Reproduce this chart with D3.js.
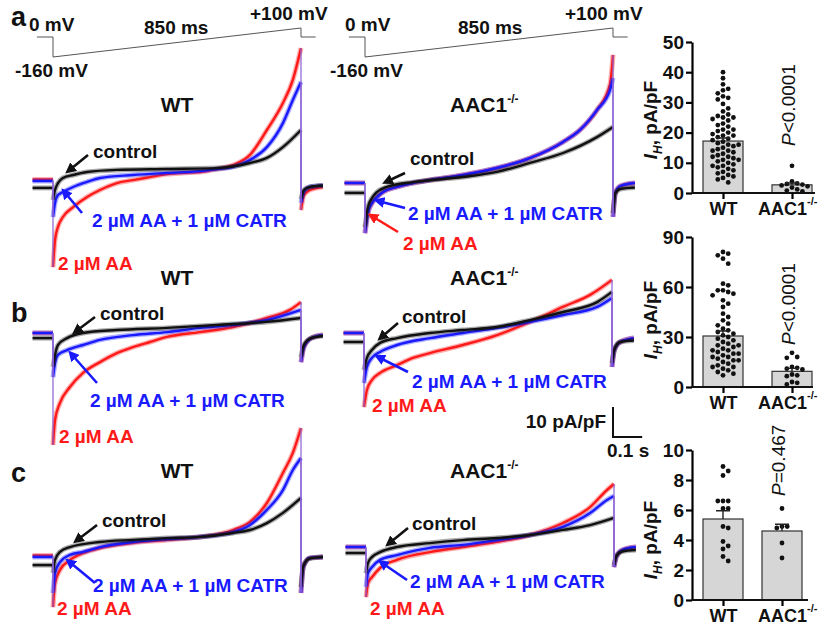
<!DOCTYPE html>
<html>
<head>
<meta charset="utf-8">
<script src="https://cdn.jsdelivr.net/npm/d3@7"></script>
<style>
  body { margin: 0; background: #fff; }
  svg { font-family: "Liberation Sans", Arial, sans-serif; }
</style>
</head>
<body>
<div id="chart"></div>
<script>
// ---- traces: [time ms, current pA/pF], ramp -160 -> +100 mV over 850 ms ----
// a step is written as two samples at the same time
const aWT_red = [[-70,0.5],[0,0.5],[0,-28.7],[7,-19.7],[17,-15.3],[34,-12],[69,-8.7],[117,-5.3],[161,-3],[219,-0.7],[274,0.3],[332,1.3],[391,2.3],[446,2.7],[504,3],[562,4],[617,5.3],[675,8.7],[733,17],[788,26],[822,33.7],[850,44.3],[850,-9.7],[860,-4.7],[880,-3],[925,-2]];
const aWT_blue = [[-70,0],[0,0],[0,-12],[7,-7.3],[17,-4.7],[34,-3.7],[69,-2],[117,-0.3],[161,1],[274,2],[391,2.7],[504,3.3],[562,4],[617,4.7],[675,7],[733,11.3],[788,19.3],[822,27],[850,33],[850,-7.3],[860,-3.5],[880,-2],[925,-1.5]];
const aWT_ctrl = [[-70,-2.3],[0,-2.3],[0,-6.3],[7,-3],[17,-0.7],[34,1],[69,2],[117,3],[219,3.7],[391,4],[562,4.3],[675,6],[733,7.7],[788,11.3],[850,17],[850,-6],[860,-3],[880,-2],[925,-1.5]];

const aKO_red = [[-70,0],[0,0],[0,-16.7],[10,-10],[24,-6.7],[41,-4.7],[62,-3],[110,-1.3],[165,0],[223,1],[336,2.7],[452,5],[565,8.3],[679,13.7],[737,17.7],[795,24.3],[840,33],[850,42.7],[850,-11.3],[858,-3.3],[875,-1],[925,0]];
const aKO_blue = [[-70,0],[0,0],[0,-16.7],[10,-10],[24,-6.7],[41,-4.7],[62,-3],[110,-1.3],[165,0],[223,1],[336,2.7],[452,5],[565,8.3],[679,13.7],[737,17.7],[795,24.3],[840,31],[850,35],[850,-11.3],[858,-3.3],[875,-1],[925,0]];
const aKO_ctrl = [[-70,-3.3],[0,-3.3],[0,-14.7],[10,-8],[24,-5],[41,-3],[75,-1.3],[165,0.3],[336,2],[452,3.7],[565,6.7],[679,10],[795,15.3],[850,18.7],[850,-10],[858,-3.5],[875,-2],[925,-1.5]];

const bWT_red = [[-70,0],[0,0],[0,-37.3],[7,-29],[24,-23.3],[58,-18],[103,-13.3],[161,-9.7],[219,-6.7],[274,-4.7],[332,-3],[391,-1.3],[504,0.3],[617,2],[733,5],[812,7.7],[850,10.3],[850,-9.7],[860,-4.7],[885,-1.7],[925,-0.7]];
const bWT_blue = [[-70,0],[0,0],[0,-14.7],[7,-10],[17,-7.3],[48,-5.7],[103,-4],[161,-2.3],[274,-0.7],[391,0.3],[504,1.7],[617,2.7],[733,4.3],[850,7.7],[850,-9.7],[860,-4.7],[885,-1.7],[925,-0.7]];
const bWT_ctrl = [[-70,-1.7],[0,-1.7],[0,-11.3],[7,-7.3],[17,-4],[48,-1.7],[103,0],[219,1],[391,1.7],[562,2.7],[733,3.7],[850,5],[850,-8],[860,-4],[885,-1.7],[925,-1]];

const bKO_red = [[-70,0],[0,0],[0,-24.7],[10,-19],[27,-15.7],[55,-13.3],[113,-10.7],[168,-8.3],[226,-6.7],[339,-4],[456,-0.7],[569,3.7],[682,8.7],[775,12.7],[850,17.7],[850,-11.3],[858,-5.7],[878,-3],[925,-1.7]];
const bKO_blue = [[-70,0],[0,0],[0,-16.7],[10,-11.3],[27,-8.3],[55,-6.3],[113,-4],[226,-1.7],[339,0],[456,1.7],[569,3.7],[682,6],[799,8.7],[850,11.7],[850,-11.3],[858,-5.7],[878,-3],[925,-1.7]];
const bKO_ctrl = [[-70,-3],[0,-3],[0,-12.3],[10,-8.3],[27,-5.7],[55,-3.3],[113,-1.7],[226,0],[339,1],[456,2],[569,4.3],[682,7],[799,10.3],[850,13.7],[850,-10],[858,-5.5],[878,-3],[925,-2.5]];

const cWT_red = [[-70,0.5],[0,0.5],[0,-16.7],[7,-8.7],[24,-4.3],[58,-1],[103,1.3],[161,3],[274,4.7],[391,5.7],[504,6.7],[617,9],[675,11.7],[733,18],[788,28],[822,34.7],[850,43],[850,-12],[858,-3.3],[880,-0.3],[925,0]];
const cWT_blue = [[-70,0],[0,0],[0,-12],[7,-5.3],[24,-1.7],[58,0.7],[103,1.7],[161,3.3],[274,5],[391,6],[504,6.7],[617,8.3],[675,10.7],[733,15.7],[788,22.3],[822,29],[850,33],[850,-12],[858,-3.3],[880,-0.3],[925,0]];
const cWT_ctrl = [[-70,-2.7],[0,-2.7],[0,-5.3],[7,-1],[24,1.7],[58,3.3],[161,5],[274,5.7],[391,6.3],[504,6.7],[617,8],[675,9],[733,11.3],[788,14.7],[850,19.7],[850,-10],[858,-3],[880,-0.5],[925,0]];

const cKO_red = [[-70,0],[0,0],[0,-16.7],[7,-12],[21,-10],[48,-7],[106,-4.3],[219,-1.7],[332,0],[449,1.7],[562,4],[675,8],[768,13.3],[826,19],[850,21],[850,-6.7],[858,-3.3],[878,-1],[925,0]];
const cKO_blue = [[-70,0],[0,0],[0,-13.3],[7,-8.7],[21,-6.7],[48,-4.3],[106,-2.7],[219,-0.3],[332,0.7],[449,2.3],[562,4],[675,6.7],[768,11.3],[826,15.7],[850,17],[850,-6.7],[858,-3.3],[878,-1],[925,0]];
const cKO_ctrl = [[-70,-2],[0,-2],[0,-8.7],[7,-5.3],[21,-3.3],[48,-1.7],[106,0],[219,1.3],[332,2.3],[449,3],[562,4],[675,5.7],[768,7.3],[850,9.7],[850,-6],[858,-3],[878,-1.5],[925,-1]];

// voltage protocol [time ms, mV]
const protocol = [[-55,0],[0,0],[0,-160],[850,100],[850,0],[900,0]];

// ---- bar charts: I_H, pA/pF ----
const groups = ['WT', 'AAC1'];
const aWT_pts = [40,38,36,34.5,34,33,32,31.5,31,29.5,28,27,26,25.5,25,25,24.5,24,23,22.5,22,21,21,20.5,20,19.5,19,19,18.5,18,17.5,17,16.5,16,16,15.5,15,14.5,14,14,13.5,13,12.5,12,12,11.5,11,11,10.5,10,9.5,9,9,8.5,8,7.5,7,6.5,6,5.5,5,4.5,3.5];
const aKO_pts = [9,3.8,3.2,3,2.8,2.5,2.2,1.8,1.2,0.8,0.5];
const bWT_pts = [81,80,79,77,74,62,61,58,58,57,56,55,52,50,48,44,42,40,38,37,35,34,33,32,31,30,29,28,27,26,25,25,24,23,22,22,21,20,20,19,18,18,17,16,16,15,14,13,12,12,11,10,9,8,7];
const bKO_pts = [20.5,18,17.5,12,11.5,11,10.5,7.5,7,6.5,3,2.5,1.5];
const cWT_pts = [8.9,8.6,8.3,6.6,6.6,6.6,6.1,6.1,4.9,4.8,3.9,3.6,3.4,2.9,2.6];
const cKO_pts = [6.1,4.9,4.9,4.8,3.8,2.8];
const aMean = [17.2, 2.7], aSem = [1.0, 0.6];
const bMean = [30.6, 9.4], bSem = [3.0, 1.8];
const cMean = [5.4, 4.6], cSem = [0.55, 0.45];
const aTicks = [0, 10, 20, 30, 40, 50];
const bTicks = [0, 30, 60, 90];
const cTicks = [0, 2, 4, 6, 8, 10];
const pLabels = ['<0.0001', '<0.0001', '=0.467'];

const svg = d3.select('#chart').append('svg')
    .attr('width', 820)
    .attr('height', 635);

// 850 ms ramp = 248 px, 10 pA/pF = 30 px
const xTime = d3.scaleLinear().domain([0, 850]).range([0, 248]);
const curScale = base => d3.scaleLinear().domain([0, 10]).range([base, base - 30]);
const colors = { red: '#ff1a1a', blue: '#1a1aff', ctrl: '#111' };

const defs = svg.append('defs');
Object.entries(colors).forEach(([k, c]) => {
    defs.append('marker')
        .attr('id', 'arr-' + k)
        .attr('viewBox', '0 0 10 10')
        .attr('refX', 2).attr('refY', 5)
        .attr('markerWidth', 4.2).attr('markerHeight', 4.2)
        .attr('orient', 'auto-start-reverse')
        .append('path').attr('d', 'M0,0 L10,5 L0,10 z').attr('fill', c);
});

function drawTrace(g, pts, color, y) {
    let pieces = [[pts[0]]];
    let steps = [];
    for (let i = 1; i < pts.length; i++) {
        if (pts[i][0] === pts[i - 1][0]) {
            steps.push([pts[i - 1], pts[i]]);
            pieces.push([pts[i]]);
        } else {
            pieces[pieces.length - 1].push(pts[i]);
        }
    }
    const line = d3.line()
        .x(d => xTime(d[0]))
        .y(d => y(d[1]))
        .curve(d3.curveMonotoneX);
    pieces.forEach(p => {
        // soft halo stands in for the recording noise
        g.append('path').datum(p)
            .attr('d', line)
            .attr('fill', 'none')
            .attr('stroke', color)
            .attr('stroke-opacity', 0.35)
            .attr('stroke-width', 5);
        g.append('path').datum(p)
            .attr('d', line)
            .attr('fill', 'none')
            .attr('stroke', color)
            .attr('stroke-width', 2.4)
            .attr('stroke-linejoin', 'round');
    });
    return steps;
}

const panels = [
    { x0: 53, base: 181, traces: [aWT_red, aWT_blue, aWT_ctrl] },
    { x0: 365, base: 183, traces: [aKO_red, aKO_blue, aKO_ctrl] },
    { x0: 53, base: 333, traces: [bWT_red, bWT_blue, bWT_ctrl] },
    { x0: 364, base: 333, traces: [bKO_red, bKO_blue, bKO_ctrl] },
    { x0: 53, base: 557, traces: [cWT_red, cWT_blue, cWT_ctrl] },
    { x0: 366, base: 547, traces: [cKO_red, cKO_blue, cKO_ctrl] }
];

panels.forEach(p => {
    const g = svg.append('g').attr('transform', `translate(${p.x0},0)`);
    const y = curScale(p.base);
    let steps = [];
    ['red', 'blue', 'ctrl'].forEach((k, i) => {
        steps = steps.concat(drawTrace(g, p.traces[i], colors[k], y));
    });
    // the voltage steps show as thin violet lines
    steps.forEach(s => {
        g.append('line')
            .attr('x1', xTime(s[0][0])).attr('x2', xTime(s[1][0]))
            .attr('y1', y(s[0][1])).attr('y2', y(s[1][1]))
            .attr('stroke', '#8a5fd6')
            .attr('stroke-width', 1.2);
    });
});

// voltage protocol, row a only
const vScale = d3.scaleLinear().domain([-160, 0, 100]).range([57, 37, 28]);
const protoLine = d3.line().x(d => xTime(d[0])).y(d => vScale(d[1]));
[53, 365].forEach(x0 => {
    svg.append('path').datum(protocol)
        .attr('transform', `translate(${x0},0)`)
        .attr('d', protoLine)
        .attr('fill', 'none')
        .attr('stroke', '#555')
        .attr('stroke-width', 1);
});

function label(x, y, txt, opts) {
    opts = opts || {};
    return svg.append('text')
        .attr('x', x).attr('y', y)
        .attr('font-size', opts.size || 19)
        .attr('font-weight', 'bold')
        .attr('fill', opts.color || '#111')
        .attr('text-anchor', opts.anchor || 'start')
        .text(txt);
}

// protocol text
[[29, 345], [144, 458], [250, 565], [15, 330]].forEach((xs, i) => {
    const txt = ['0 mV', '850 ms', '+100 mV', '-160 mV'][i];
    const yy = [31, 34, 20, 77][i];
    xs.forEach(x => label(x, yy, txt));
});

// panel letters
label(11, 26, 'a', { size: 27 });
label(11, 322, 'b', { size: 27 });
label(11, 482, 'c', { size: 27 });

// titles
function koTitle(x, y, size) {
    const t = label(x, y, 'AAC1', { size: size || 21 });
    t.append('tspan').attr('font-size', 12).attr('dy', -9).text('-/-');
    return t;
}
[112, 285, 478].forEach(y => {
    label(177, y, 'WT', { size: 21, anchor: 'middle' });
    koTitle(450, y);
});

// labels and arrows per panel
const notes = [
    { ctrl: [93, 158], blue: [92, 227], red: [58, 270],
      aCtrl: [88, 155, 72, 168], aBlue: [82, 213, 67, 195] },
    { ctrl: [410, 165], blue: [408, 220], red: [403, 250],
      aCtrl: [405, 173, 390, 180], aBlue: [405, 208, 382, 202], aRed: [398, 232, 375, 218] },
    { ctrl: [100, 320], blue: [90, 407], red: [59, 443],
      aCtrl: [95, 317, 79, 329], aBlue: [97, 383, 74, 357] },
    { ctrl: [402, 323], blue: [412, 388], red: [372, 412],
      aCtrl: [398, 323, 384, 335], aBlue: [408, 372, 382, 359] },
    { ctrl: [102, 527], blue: [93, 592], red: [57, 615],
      aCtrl: [97, 525, 80, 538], aBlue: [95, 583, 72, 564] },
    { ctrl: [412, 530], blue: [410, 588], red: [370, 615],
      aCtrl: [408, 528, 392, 541], aBlue: [407, 580, 385, 565] }
];
notes.forEach(n => {
    label(n.ctrl[0], n.ctrl[1], 'control', { color: colors.ctrl });
    label(n.blue[0], n.blue[1], '2 \u00b5M AA + 1 \u00b5M CATR', { color: colors.blue });
    label(n.red[0], n.red[1], '2 \u00b5M AA', { color: colors.red });
    [['aCtrl', 'ctrl'], ['aBlue', 'blue'], ['aRed', 'red']].forEach(([key, c]) => {
        if (!n[key]) return;
        const a = n[key];
        svg.append('line')
            .attr('x1', a[0]).attr('y1', a[1]).attr('x2', a[2]).attr('y2', a[3])
            .attr('stroke', colors[c])
            .attr('stroke-width', 2.6)
            .attr('marker-end', `url(#arr-${c})`);
    });
});

// scale bar 10 pA/pF, 0.1 s
const sbX = 613, sbY = 437;
const sbV = curScale(sbY);
svg.append('path')
    .attr('d', `M${sbX},${sbV(10)}V${sbY}H${sbX + xTime(100) - xTime(0)}`)
    .attr('fill', 'none').attr('stroke', '#111').attr('stroke-width', 2);
label(606, 428, '10 pA/pF', { anchor: 'end' });
label(607, 457, '0.1 s');

// ---- bar charts ----
const bars = [
    { mean: aMean, sem: aSem, pts: [aWT_pts, aKO_pts], ticks: aTicks, y0: 193, y1: 42, xs: [723, 792], xEnd: 815, labY: 120, pY: 146 },
    { mean: bMean, sem: bSem, pts: [bWT_pts, bKO_pts], ticks: bTicks, y0: 387, y1: 237, xs: [723, 792], xEnd: 813, labY: 320, pY: 345 },
    { mean: cMean, sem: cSem, pts: [cWT_pts, cKO_pts], ticks: cTicks, y0: 600, y1: 450, xs: [723, 782], xEnd: 808, labY: 540, pY: 496 }
];

bars.forEach((b, bi) => {
    const axX = 692;
    const y = d3.scaleLinear().domain([0, d3.max(b.ticks)]).range([b.y0, b.y1]);
    const x = d3.scalePoint().domain(groups).range(b.xs);
    const g = svg.append('g');

    groups.forEach((grp, i) => {
        const cx = x(grp);
        g.append('rect')
            .attr('x', cx - 20).attr('width', 40)
            .attr('y', y(b.mean[i])).attr('height', y(0) - y(b.mean[i]))
            .attr('fill', '#d6d6d6').attr('stroke', '#333').attr('stroke-width', 1.2);

        // beeswarm-style spreading so dots do not overlap
        const r = 2.4;
        const placed = [];
        b.pts[i].slice().sort((p, q) => q - p).forEach(v => {
            const py = y(v);
            for (let k = 0; k < 20; k++) {
                const off = (k % 2 ? 1 : -1) * Math.ceil(k / 2) * 5.2;
                const px = cx + off;
                if (placed.every(d => Math.hypot(d[0] - px, d[1] - py) >= 2 * r + 0.4)) {
                    placed.push([px, py]);
                    break;
                }
            }
        });
        g.selectAll(null).data(placed).join('circle')
            .attr('cx', d => d[0]).attr('cy', d => d[1]).attr('r', r).attr('fill', '#111');

        const top = y(b.mean[i] + b.sem[i]);
        g.append('path')
            .attr('d', `M${cx},${y(b.mean[i])}V${top}M${cx - 7},${top}H${cx + 7}`)
            .attr('stroke', '#222').attr('stroke-width', 1.4).attr('fill', 'none');
    });

    const yAx = g.append('g')
        .attr('transform', `translate(${axX},0)`)
        .call(d3.axisLeft(y).tickValues(b.ticks).tickSize(6).tickSizeOuter(0));
    yAx.select('.domain').attr('stroke-width', 2.2);
    yAx.selectAll('.tick line').attr('stroke-width', 2.2);
    yAx.selectAll('.tick text')
        .attr('font-size', 19).attr('font-weight', 'bold')
        .attr('font-family', '"Liberation Sans", Arial, sans-serif')
        .attr('fill', '#111').attr('x', -8);

    g.append('line')
        .attr('x1', axX).attr('x2', b.xEnd).attr('y1', b.y0).attr('y2', b.y0)
        .attr('stroke', '#111').attr('stroke-width', 2.2);
    const xAx = g.append('g')
        .attr('transform', `translate(0,${b.y0})`)
        .call(d3.axisBottom(x).tickSize(6).tickSizeOuter(0));
    xAx.select('.domain').remove();
    xAx.selectAll('.tick line').attr('stroke-width', 2.2);
    xAx.selectAll('.tick text')
        .attr('font-size', 18).attr('font-weight', 'bold')
        .attr('font-family', '"Liberation Sans", Arial, sans-serif')
        .attr('fill', '#111').attr('y', 9)
        .each(function(d) {
            if (d === 'AAC1') {
                // keep the knockout label inside the picture
                d3.select(this)
                    .attr('text-anchor', 'end')
                    .attr('x', 817 - x(d));
                d3.select(this).append('tspan').attr('font-size', 11).attr('dy', '-0.9em').text('-/-');
            }
        });

    // y label: I_H, pA/pF
    const yl = g.append('text')
        .attr('transform', `translate(657,${b.labY}) rotate(-90)`)
        .attr('text-anchor', 'middle')
        .attr('font-size', 19).attr('font-weight', 'bold').attr('fill', '#111');
    yl.append('tspan').attr('font-style', 'italic').text('I');
    yl.append('tspan').attr('font-style', 'italic').attr('font-size', 12).attr('dy', 5).text('H');
    yl.append('tspan').attr('dy', -5).text(', pA/pF');

    // p value
    const pt = g.append('text')
        .attr('transform', `translate(${x('AAC1') + 3},${b.pY}) rotate(-90)`)
        .attr('font-size', 19).attr('fill', '#111');
    pt.append('tspan').attr('font-style', 'italic').text('P');
    pt.append('tspan').text(pLabels[bi]);
});
</script>
</body>
</html>
